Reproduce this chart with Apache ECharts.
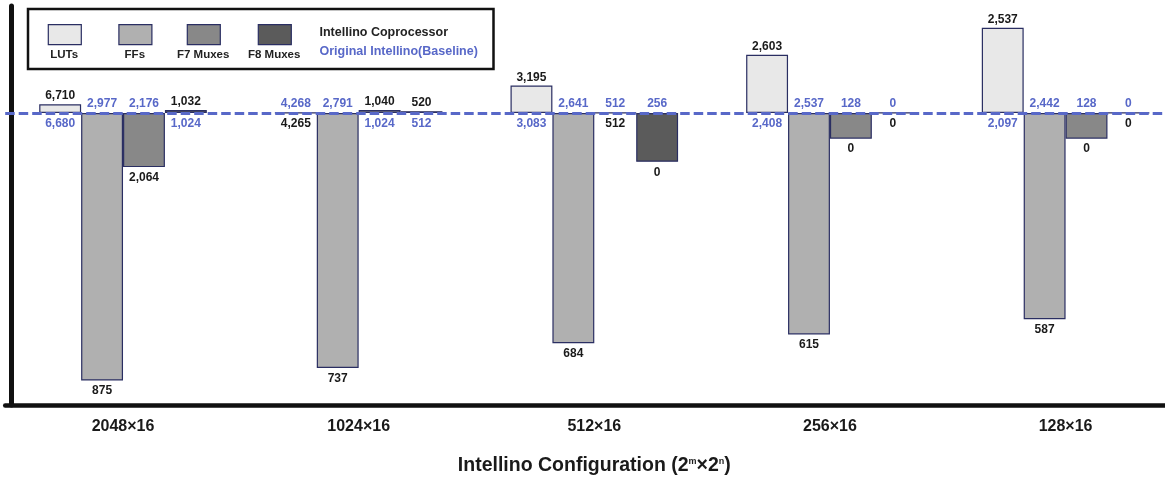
<!DOCTYPE html>
<html>
<head>
<meta charset="utf-8">
<script src="https://cdn.jsdelivr.net/npm/echarts@6/dist/echarts.min.js"></script>
<style>
html,body{margin:0;padding:0;background:#fff;overflow:hidden;width:1165px;height:481px;}
#chart{width:1200px;height:481px;}
</style>
</head>
<body>
<div id="chart"></div>
<script>
// ---- data ----
const categories = ['2048×16', '1024×16', '512×16', '256×16', '128×16'];
const seriesNames = ['LUTs', 'FFs', 'F7 Muxes', 'F8 Muxes'];

const lutsCoprocessor = [6710, 4265, 3195, 2603, 2537];
const lutsBaseline    = [6680, 4268, 3083, 2408, 2097];
const ffsCoprocessor  = [875, 737, 684, 615, 587];
const ffsBaseline     = [2977, 2791, 2641, 2537, 2442];
const f7Coprocessor   = [2064, 1040, 512, 0, 0];
const f7Baseline      = [2176, 1024, 512, 128, 128];
const f8Coprocessor   = [1032, 520, 0, 0, 0];
const f8Baseline      = [1024, 512, 256, 0, 0];

// drawn bar length from the dashed baseline, as shown in the source figure (not a linear value scale)
const lutsBarLength = [8.7, 0, 27.7, 58.7, 86];
const ffsBarLength  = [-270.3, -257.7, -232.7, -223.7, -208.3];
const f7BarLength   = [-54.7, 3, 0, -26, -26];
const f8BarLength   = [3, 1.7, -49.3, 0, 0];

const legendTexts = ['Intellino Coprocessor', 'Original Intellino(Baseline)'];

// ---- styling ----
const FONT = '"Liberation Sans", Arial, Helvetica, sans-serif';
const fills = ['#e8e8e8', '#b0b0b0', '#888888', '#5b5b5b'];
const BORDER = '#2a2e62';
const BLUE = '#5868c8';
const DARK = '#1a1a1a';
const BAR_RATIO = 0.1778;

const barLengths = [lutsBarLength, ffsBarLength, f7BarLength, f8BarLength];
const copVals = [lutsCoprocessor, ffsCoprocessor, f7Coprocessor, f8Coprocessor];
const baseVals = [lutsBaseline, ffsBaseline, f7Baseline, f8Baseline];

const fmt = v => v.toLocaleString('en-US');

const barSeries = seriesNames.map((name, k) => {
  const s = {
    name: name,
    type: 'bar',
    data: barLengths[k],
    barWidth: (BAR_RATIO * 100) + '%',
    barGap: '0%',
    itemStyle: { color: fills[k], borderColor: BORDER, borderWidth: 1.2 },
    emphasis: { disabled: true },
    z: 2
  };
  if (k === 0) {
    s.markLine = {
      silent: true,
      symbol: ['none', 'none'],
      label: { show: false },
      lineStyle: { type: [9.5, 4], width: 3, color: BLUE, opacity: 1 },
      data: [{ yAxis: 0 }],
      z: 5
    };
  }
  return s;
});

// label data: [categoryIndex, barLength, coprocessorValue, baselineValue, seriesIndex]
const labelData = [];
seriesNames.forEach((n, k) => {
  categories.forEach((c, i) => {
    labelData.push([i, barLengths[k][i], copVals[k][i], baseVals[k][i], k]);
  });
});

function txt(text, x, y, color) {
  return {
    type: 'text',
    style: {
      text: text, x: x, y: y,
      align: 'center', verticalAlign: 'middle',
      textAlign: 'center', textVerticalAlign: 'middle',
      fontSize: 12, fontWeight: 'bold', fontFamily: FONT,
      fill: color
    }
  };
}

const labelSeries = {
  type: 'custom',
  coordinateSystem: 'cartesian2d',
  data: labelData,
  encode: { x: 0, y: 1 },
  silent: true,
  z: 6,
  renderItem: function (params, api) {
    const cat = api.value(0);
    const len = api.value(1);
    const cop = api.value(2);
    const base = api.value(3);
    const k = api.value(4);
    const band = api.size([1, 0])[0];
    const bw = band * BAR_RATIO;
    const p0 = api.coord([cat, 0]);
    const cx = p0[0] + (k - 1.5) * bw;
    const y0 = p0[1];
    const yEnd = api.coord([cat, len])[1];
    let children;
    if (len > 0) {
      children = [txt(fmt(cop), cx, yEnd - 8.3, DARK), txt(fmt(base), cx, y0 + 11, BLUE)];
    } else {
      children = [txt(fmt(base), cx, y0 - 9, BLUE), txt(fmt(cop), cx, yEnd + 10.5, DARK)];
    }
    return { type: 'group', children: children };
  }
};

// legend icons (one legend per series so icons can sit above their labels)
const iconLefts = [47.7, 118.3, 186.7, 257.7];
const legends = seriesNames.map((n, k) => ({
  data: [n],
  left: iconLefts[k],
  top: 24,
  padding: 0,
  itemGap: 0,
  itemWidth: 33,
  itemHeight: 20,
  icon: 'rect',
  selectedMode: false,
  formatter: () => '',
  textStyle: { fontSize: 1 },
  itemStyle: { color: fills[k], borderColor: BORDER, borderWidth: 1.2 }
}));

const graphics = [
  {
    type: 'rect',
    shape: { x: 28, y: 9, width: 465.5, height: 60 },
    style: { fill: 'none', stroke: '#111', lineWidth: 2.5 },
    z: 10
  }
];
seriesNames.forEach((n, k) => {
  graphics.push({
    type: 'text',
    x: iconLefts[k] + 16.5,
    y: 54.5,
    style: {
      text: n, align: 'center', verticalAlign: 'middle',
      fontSize: 11.5, fontWeight: 'bold', fontFamily: FONT, fill: '#222'
    },
    z: 10
  });
});
graphics.push({
  type: 'text', x: 319.5, y: 32.5,
  style: { text: legendTexts[0], align: 'left', verticalAlign: 'middle',
    fontSize: 12.5, fontWeight: 'bold', fontFamily: FONT, fill: '#222' },
  z: 10
});
graphics.push({
  type: 'text', x: 319.5, y: 52,
  style: { text: legendTexts[1], align: 'left', verticalAlign: 'middle',
    fontSize: 12.5, fontWeight: 'bold', fontFamily: FONT, fill: BLUE },
  z: 10
});

const chart = echarts.init(document.getElementById('chart'), null, { renderer: 'canvas' });
chart.setOption({
  animation: false,
  backgroundColor: '#fff',
  textStyle: { fontFamily: FONT },
  grid: { left: 5.2, top: 6, width: 1178.2, height: 403, containLabel: false },
  legend: legends,
  xAxis: {
    type: 'category',
    data: categories,
    axisTick: { show: false },
    axisLine: { show: true, onZero: false, lineStyle: { color: '#111', width: 4.5 } },
    axisLabel: { fontSize: 16, fontWeight: 'bold', color: '#1a1a1a', margin: 14, fontFamily: FONT },
    name: 'Intellino Configuration (2{sup|m}×2{sup|n})',
    nameLocation: 'middle',
    nameGap: 51,
    nameTextStyle: {
      fontSize: 19.5, fontWeight: 'bold', color: '#1a1a1a', fontFamily: FONT,
      rich: {
        sup: { fontSize: 9, fontWeight: 'bold', color: '#1a1a1a', fontFamily: FONT, verticalAlign: 'top', padding: [1, 0, 0, 0] }
      }
    },
    splitLine: { show: false }
  },
  yAxis: {
    type: 'value',
    min: -295,
    max: 108,
    offset: -5.6,
    axisLine: { show: true, lineStyle: { color: '#111', width: 5 } },
    axisTick: { show: false },
    axisLabel: { show: false },
    splitLine: { show: false }
  },
  series: barSeries.concat([labelSeries]),
  graphic: graphics
});
</script>
</body>
</html>
